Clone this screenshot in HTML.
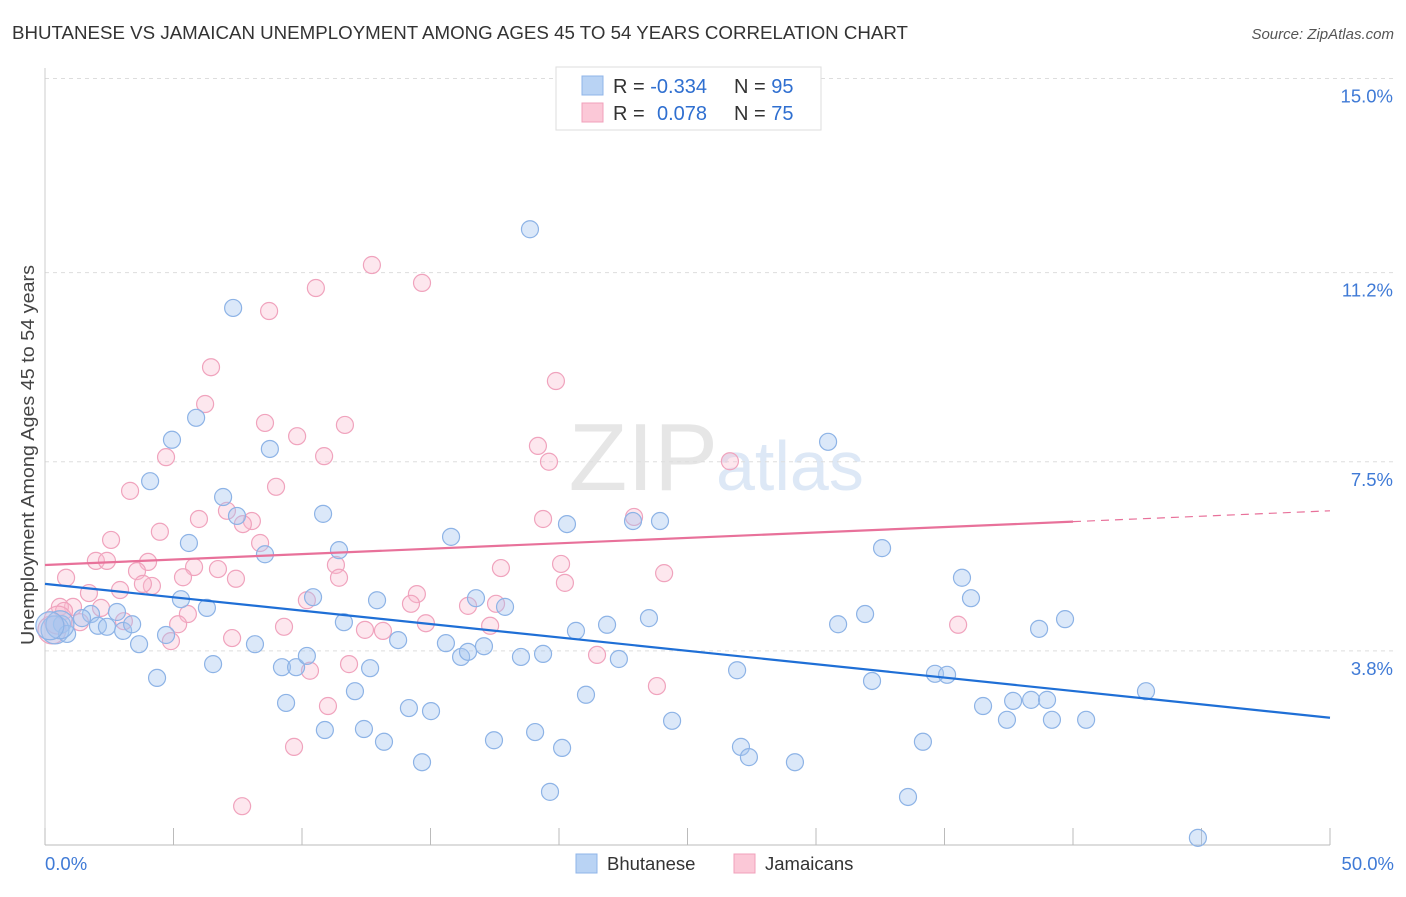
<!DOCTYPE html>
<html><head><meta charset="utf-8"><style>
body{margin:0;background:#fff;font-family:"Liberation Sans",sans-serif;}
svg text{font-family:"Liberation Sans",sans-serif;}
</style></head><body>
<svg id="chart" width="1406" height="892">
<text x="12" y="39" font-size="18" fill="#333" textLength="896" lengthAdjust="spacingAndGlyphs">BHUTANESE VS JAMAICAN UNEMPLOYMENT AMONG AGES 45 TO 54 YEARS CORRELATION CHART</text>
<text x="1394" y="39" font-size="15" fill="#555" font-style="italic" text-anchor="end">Source: ZipAtlas.com</text>
<text x="718" y="490" font-size="96" fill="#e6e6e6" text-anchor="end" font-family="Liberation Serif">ZIP</text>
<text x="716" y="490" font-size="70" fill="#dde8f6">atlas</text>
<g id="grid"></g><g id="axes"></g><g id="marks"></g>
<text x="34" y="455" font-size="18" fill="#444" text-anchor="middle" textLength="380" lengthAdjust="spacingAndGlyphs" transform="rotate(-90 34 455)">Unemployment Among Ages 45 to 54 years</text>
<g>
<rect x="556" y="67" width="265" height="63" fill="#fff" stroke="#ddd"/>
<rect x="582" y="76" width="21" height="19" fill="#b9d3f4" stroke="#8fb4e8"/>
<rect x="582" y="103" width="21" height="19" fill="#fbc8d7" stroke="#f0a0bb"/>
<text x="613" y="93" font-size="20" fill="#333">R = <tspan fill="#2f6fd0">-0.334</tspan></text>
<text x="734" y="93" font-size="20" fill="#333">N = <tspan fill="#2f6fd0">95</tspan></text>
<text x="613" y="120" font-size="20" fill="#333">R = <tspan fill="#2f6fd0" x="657">0.078</tspan></text>
<text x="734" y="120" font-size="20" fill="#333">N = <tspan fill="#2f6fd0">75</tspan></text>
</g>
<g>
<rect x="576" y="854" width="21" height="19" fill="#b9d3f4" stroke="#8fb4e8"/>
<text x="607" y="870" font-size="18.5" fill="#333">Bhutanese</text>
<rect x="734" y="854" width="21" height="19" fill="#fbc8d7" stroke="#f0a0bb"/>
<text x="765" y="870" font-size="18.5" fill="#333">Jamaicans</text>
</g>
</svg>
<script>
const yTicks=[15.0,11.2,7.5,3.8];
const yTickLabels=["15.0%","11.2%","7.5%","3.8%"];
const xTickLabels=["0.0%","50.0%"];
const blueX=[18.87,7.32,5.88,4.94,8.75,30.47,4.09,6.93,7.47,10.82,5.60,8.56,11.44,15.80,20.31,22.88,23.93,32.57,35.68,36.03,39.69,38.68,5.29,6.30,2.80,1.79,1.44,0.66,0.39,0.86,2.06,2.41,3.04,3.39,4.71,3.66,8.17,10.43,11.63,12.92,13.74,15.60,16.19,16.46,17.08,16.77,17.90,18.52,19.38,20.66,21.87,23.50,22.33,30.86,31.91,4.36,6.54,9.22,9.77,10.19,12.65,12.06,9.38,14.16,15.02,10.89,12.41,13.19,14.67,17.47,19.07,20.12,19.65,21.05,24.40,26.93,27.08,27.39,29.18,32.18,34.63,35.10,34.16,33.58,36.50,37.43,37.67,38.37,38.99,39.18,40.51,42.84,44.86,0.58,0.19];
const blueY=[12.05,10.51,8.36,7.93,7.75,7.89,7.12,6.81,6.44,6.48,5.91,5.69,5.77,6.03,6.28,6.34,6.34,5.81,5.23,4.83,4.42,4.23,4.81,4.64,4.56,4.52,4.44,4.32,4.21,4.13,4.29,4.27,4.19,4.32,4.11,3.93,3.93,4.85,4.36,4.79,4.01,3.95,3.68,3.78,3.89,4.83,4.66,3.68,3.74,4.19,4.31,4.44,3.64,4.32,4.52,3.27,3.54,3.48,3.48,3.70,3.46,3.01,2.78,2.68,2.62,2.25,2.27,2.02,1.62,2.05,2.21,1.90,1.04,2.94,2.43,3.42,1.92,1.72,1.62,3.21,3.35,3.33,2.02,0.94,2.72,2.45,2.82,2.84,2.84,2.45,2.45,3.01,0.14,4.31,4.29];
const pinkX=[12.72,14.67,10.54,8.72,6.46,19.88,6.23,8.56,11.67,9.81,4.71,10.86,19.18,19.61,26.65,3.31,8.99,7.08,8.05,7.70,5.99,4.47,2.57,19.38,22.92,8.37,1.98,2.41,4.01,3.58,6.73,5.80,5.37,0.82,4.16,3.81,2.92,1.71,7.43,11.32,11.44,17.74,20.08,20.23,24.09,14.47,10.19,14.24,16.46,17.55,2.18,1.09,0.58,0.74,5.56,5.18,3.07,1.36,7.28,9.30,12.45,13.15,14.82,17.32,35.53,4.90,11.83,10.31,21.48,23.81,11.01,9.69,7.67,0.27,0.51];
const pinkY=[11.35,11.00,10.90,10.45,9.35,9.08,8.63,8.26,8.22,8.00,7.59,7.61,7.81,7.50,7.51,6.93,7.01,6.54,6.34,6.28,6.38,6.13,5.97,6.38,6.42,5.91,5.56,5.56,5.54,5.36,5.40,5.44,5.24,5.23,5.07,5.11,4.99,4.93,5.21,5.48,5.23,5.42,5.50,5.13,5.32,4.91,4.79,4.72,4.68,4.72,4.64,4.66,4.66,4.58,4.52,4.32,4.38,4.36,4.05,4.27,4.21,4.19,4.34,4.29,4.31,3.99,3.54,3.41,3.72,3.11,2.72,1.92,0.76,4.21,4.40];
const blueTrend=[5.11,2.49];
const pinkTrend=[5.48,6.54];
const pinkSolidEnd=40;

const X=v=>45+v*25.7, Y=v=>845-v*51.1;
const NS="http://www.w3.org/2000/svg";
function mk(tag,parent,attrs){const e=document.createElementNS(NS,tag);for(const k in attrs)e.setAttribute(k,attrs[k]);document.getElementById(parent).appendChild(e);return e;}
yTicks.forEach((t,i)=>{
 const g=mk('line','grid',{x1:45,x2:1394,y1:Y(t),y2:Y(t),stroke:'#ddd','stroke-dasharray':'4,4'});
 
 
 const l=mk('text','axes',{x:1393,y:Y(t)+24,'font-size':18.5,fill:'#3f7ad6','text-anchor':'end'});
 l.textContent=yTickLabels[i];
 
 
});
let ax=mk('line','axes',{x1:45,x2:1330,y1:845,y2:845,stroke:'#bbb'});


let ay=mk('line','axes',{x1:45,x2:45,y1:68,y2:845,stroke:'#ccc'});


for(let i=0;i<=10;i++){const t=mk('line','axes',{x1:X(i*5),x2:X(i*5),y1:828,y2:845,stroke:'#bbb'});
 
 }
[[0,'start',45],[50,'end',1394]].forEach((d,i)=>{const l=mk('text','axes',{x:d[2],y:870,'font-size':18.5,fill:'#3f7ad6','text-anchor':d[1]});l.textContent=xTickLabels[i];
 
 });
function pts(xs,ys,fill,stroke,name){xs.forEach((x,i)=>{const big=x<0.6&&Math.abs(ys[i]-4.25)<0.2;
 const c=mk('circle','marks',{cx:X(x),cy:Y(ys[i]),r:big?14:8.5,fill:fill,stroke:stroke,'stroke-width':1.2});
 
 });}
pts(pinkX,pinkY,'rgba(248,185,205,0.35)','#f0a3bd','jamaican-point');
pts(blueX,blueY,'rgba(165,198,240,0.4)','#8db3e6','bhutanese-point');
const bl=mk('line','marks',{x1:X(0),y1:Y(blueTrend[0]),x2:X(50),y2:Y(blueTrend[1]),stroke:'#1f6fd6','stroke-width':2.2});


const pm=pinkTrend[0]+(pinkTrend[1]-pinkTrend[0])*pinkSolidEnd/50;
const pl=mk('line','marks',{x1:X(0),y1:Y(pinkTrend[0]),x2:X(pinkSolidEnd),y2:Y(pm),stroke:'#e8719a','stroke-width':2.2});


const pd=mk('line','marks',{x1:X(pinkSolidEnd),y1:Y(pm),x2:X(50),y2:Y(pinkTrend[1]),stroke:'#e8719a','stroke-width':1.2,'stroke-dasharray':'8,6'});


</script>
</body></html>
